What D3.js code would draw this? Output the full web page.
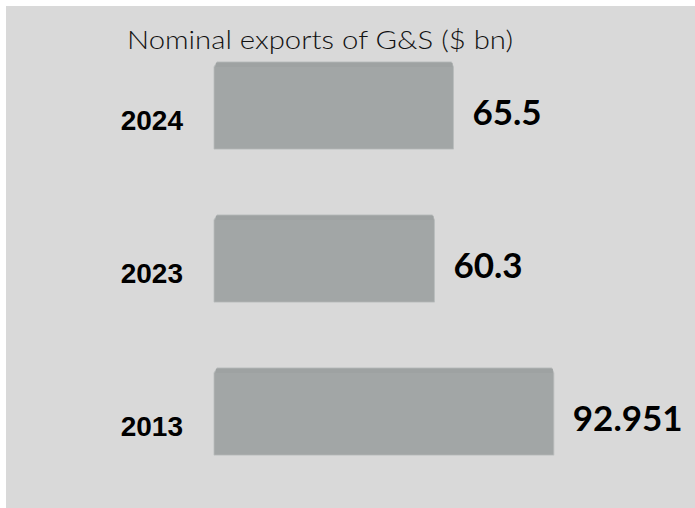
<!DOCTYPE html>
<html>
<head>
<meta charset="utf-8">
<script src="https://cdn.jsdelivr.net/npm/d3@7"></script>
<style>
  body { margin: 0; background: #fff; }
  svg { display: block; }
</style>
</head>
<body>
<div id="chart"></div>
<script>
// data
var years = ["2024", "2023", "2013"];
var exportsBn = [65.5, 60.3, 92.951];
var valueLabels = ["65.5", "60.3", "92.951"];
var title = "Nominal exports of G&S ($ bn)";

var W = 695, H = 508;
var svg = d3.select("#chart").append("svg")
    .attr("width", W)
    .attr("height", H);

// grey panel
svg.append("rect")
    .attr("x", 6).attr("y", 6)
    .attr("width", W - 6).attr("height", H - 6)
    .attr("fill", "#d9d9d9");

var barLeft = 214;
var x = d3.scaleLinear().domain([0, 93]).range([0, 340]);
var y = d3.scaleBand().domain(years).range([29, 488])
    .paddingInner(0.43).paddingOuter(0.215);

svg.append("text")
    .attr("x", 320).attr("y", 49)
    .attr("text-anchor", "middle")
    .attr("font-family", "Lato, sans-serif")
    .attr("font-weight", 300)
    .attr("font-size", "26px")
    .attr("textLength", 386)
    .attr("lengthAdjust", "spacingAndGlyphs")
    .attr("fill", "#111")
    .text(title);

var rows = svg.selectAll("g.row")
    .data(years)
    .enter().append("g")
    .attr("class", "row");

// bars with a little bevel on the top edge
rows.append("path")
    .attr("d", function(d, i) {
        var x0 = barLeft, x1 = barLeft + x(exportsBn[i]);
        var t = y(d), b = y(d) + y.bandwidth();
        return "M" + x0 + "," + (t + 5) + "L" + (x0 + 3) + "," + t +
               "L" + (x1 - 2) + "," + t + "L" + x1 + "," + (t + 5) +
               "L" + x1 + "," + b + "L" + x0 + "," + b + "Z";
    })
    .attr("fill", "#a2a6a6")
    .attr("stroke", "#b9bdbd")
    .attr("stroke-width", 0.8);

rows.append("rect")
    .attr("x", function(d, i) { return barLeft + 2; })
    .attr("y", function(d) { return y(d) + 1; })
    .attr("width", function(d, i) { return x(exportsBn[i]) - 3; })
    .attr("height", 4)
    .attr("fill", "#9ea2a2");

rows.append("text")
    .attr("x", barLeft - 31)
    .attr("y", function(d) { return y(d) + y.bandwidth() / 2 + 24; })
    .attr("text-anchor", "end")
    .attr("font-family", "'Liberation Sans', Arial, sans-serif")
    .attr("font-weight", "bold")
    .attr("font-size", "28px")
    .attr("fill", "#000")
    .text(function(d) { return d; });

rows.append("text")
    .attr("x", function(d, i) { return barLeft + x(exportsBn[i]) + 19; })
    .attr("y", function(d) { return y(d) + y.bandwidth() / 2 + 19; })
    .attr("font-family", "Lato, sans-serif")
    .attr("font-weight", "bold")
    .attr("font-size", "35px")
    .attr("fill", "#000")
    .text(function(d, i) { return valueLabels[i]; });
</script>
</body>
</html>
